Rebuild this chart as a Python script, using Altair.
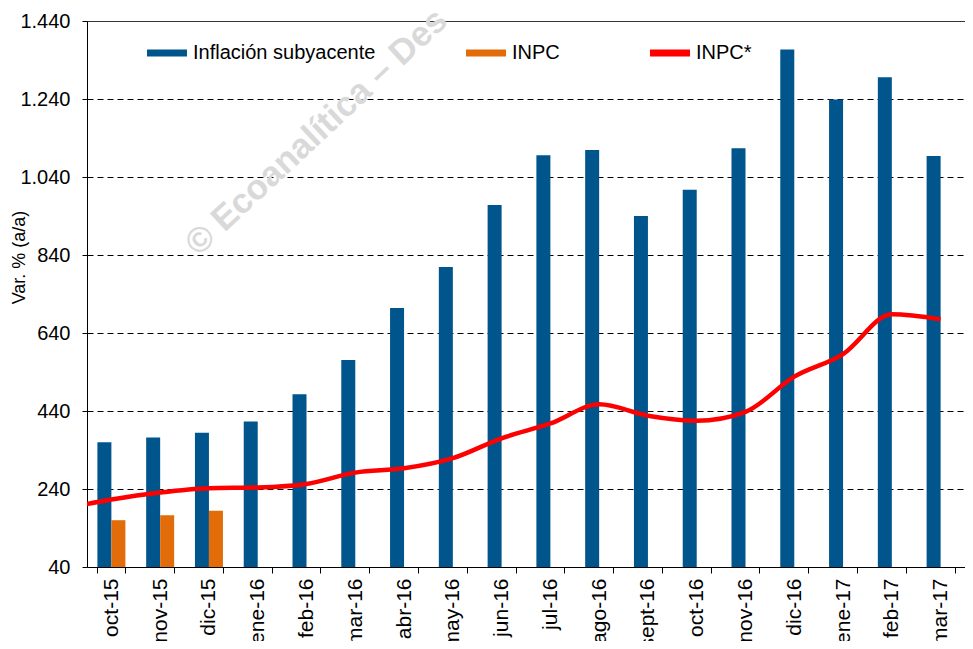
import altair as alt
import pandas as pd

# ---- data ----
meses = ["oct-15", "nov-15", "dic-15", "ene-16", "feb-16", "mar-16", "abr-16",
         "may-16", "jun-16", "jul-16", "ago-16", "sept-16", "oct-16", "nov-16",
         "dic-16", "ene-17", "feb-17", "mar-17"]
subyacente = [360, 372, 384, 413, 483, 571, 704, 809, 968, 1096, 1109, 940,
              1007, 1114, 1367, 1239, 1296, 1094]
inpc_meses = ["oct-15", "nov-15", "dic-15"]
inpc = [160, 173, 184]
# INPC* line: month index (-1 = sept-15, partly hidden at the left edge)
inpc_star_idx = list(range(-1, 18))
inpc_star = [189, 213, 231, 242, 244, 253, 282, 293, 319, 370, 408, 457, 428,
             415, 438, 528, 586, 688, 675]
y_ticks = [40, 240, 440, 640, 840, 1040, 1240, 1440]
series = ["Inflación subyacente", "INPC", "INPC*"]
colores = ["#00558C", "#E36C0A", "#FF0000"]

bar_df = pd.concat([
    pd.DataFrame({"mes": meses, "serie": series[0], "valor": subyacente}),
    pd.DataFrame({"mes": inpc_meses, "serie": series[1], "valor": inpc}),
])
line_df = pd.DataFrame({"idx": inpc_star_idx, "serie": series[2], "valor": inpc_star})

FONT = "Liberation Sans"
color_scale = alt.Scale(domain=series, range=colores)
y_scale = alt.Scale(domain=[40, 1440], nice=False, zero=False)

marca = alt.Chart(pd.DataFrame({"t": ["© Ecoanalítica – Des"]})).mark_text(
    angle=317, align="left", baseline="middle", fontSize=35, fontWeight="bold",
    color="#d9d9d9", font=FONT
).encode(x=alt.value(104), y=alt.value(228), text="t:N")

bars = alt.Chart(bar_df).mark_bar(clip=True).encode(
    x=alt.X("mes:N", sort=meses,
            scale=alt.Scale(domain=meses, paddingInner=0.426, paddingOuter=0.213),
            axis=alt.Axis(title=None, labelAngle=270, labelAlign="right",
                          labelBaseline="middle", labelFontSize=21, labelFont=FONT,
                          labelColor="black", labelPadding=5, tickSize=6,
                          tickColor="black", domainColor="black", tickBand="extent",
                          grid=False)),
    xOffset=alt.XOffset("serie:N", scale=alt.Scale(domain=series[:2], paddingInner=0,
                                                    paddingOuter=0)),
    y=alt.Y("valor:Q", scale=y_scale,
            axis=alt.Axis(values=y_ticks,
                          labelExpr="replace(format(datum.value, ','), ',', '.')",
                          labelFontSize=20, labelFont=FONT, labelColor="black",
                          labelPadding=12, tickSize=5, tickColor="black",
                          domainColor="black", grid=True, gridColor="black",
                          gridWidth=1,
                          gridDash={"condition": {"test": "datum.value === 1440",
                                                  "value": [1, 0]},
                                    "value": [6, 4]},
                          title="Var. % (a/a)", titleFontSize=18, titleFont=FONT,
                          titleFontWeight="normal", titleColor="black",
                          titleAngle=270, titleX=-59, titleY=236,
                          titleAlign="center", titleBaseline="bottom")),
    color=alt.Color("serie:N", scale=color_scale,
                    legend=alt.Legend(title=None, orient="none", legendX=60,
                                      legendY=12, direction="horizontal",
                                      columns=3, columnPadding=90,
                                      symbolType="M-1,-0.17H1V0.17H-1Z",
                                      symbolSize=1600, symbolStrokeWidth=0,
                                      symbolOpacity=1, labelLimit=0,
                                      labelFontSize=20, labelFont=FONT,
                                      labelColor="black", labelOffset=6,
                                      padding=0)),
)

line = alt.Chart(line_df).mark_line(clip=True, strokeWidth=4.5,
                                    interpolate="monotone").encode(
    x=alt.X("idx:Q", scale=alt.Scale(domain=[-0.5, 17.5], nice=False, zero=False),
            axis=None),
    y=alt.Y("valor:Q", scale=y_scale),
    color=alt.Color("serie:N", scale=color_scale),
)

chart = alt.layer(marca, bars, line).resolve_scale(x="independent").properties(
    width=878, height=546,
    autosize=alt.AutoSizeParams(type="none"),
    padding={"left": 79, "top": 13, "right": 0, "bottom": 74},
).configure_view(stroke=None).configure(font=FONT)

chart.save("out.html", embed_options={"renderer": "svg", "actions": False})
